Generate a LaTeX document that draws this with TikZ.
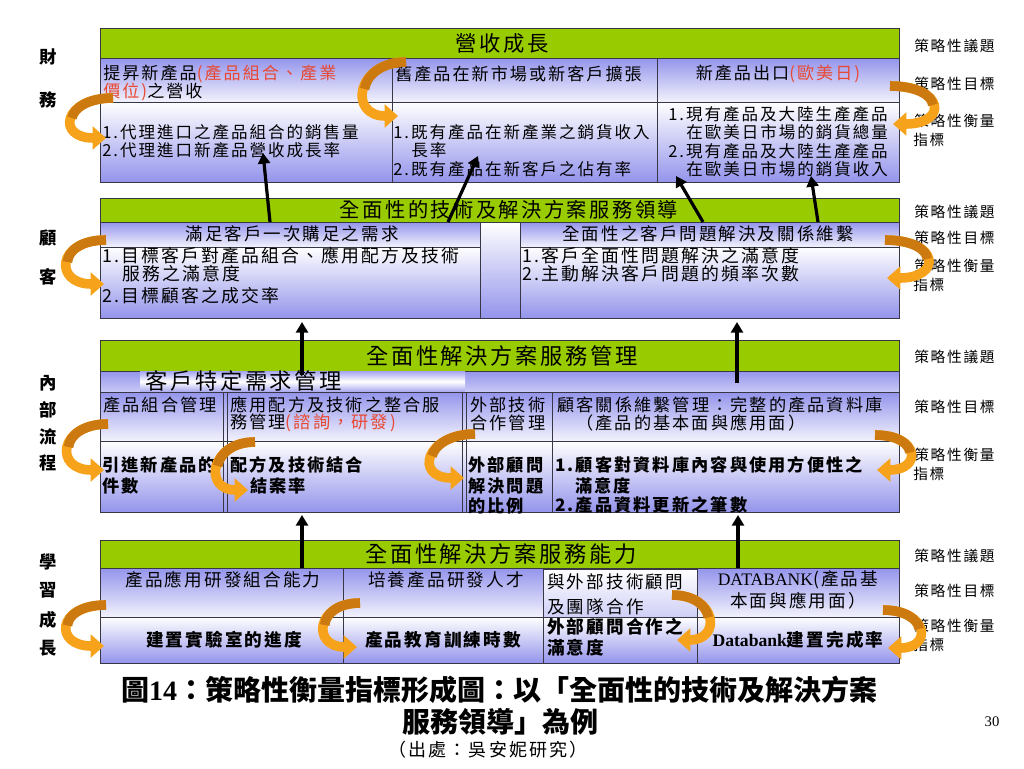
\documentclass[tikz,border=0pt]{standalone}
\usepackage{fontspec}
\setmainfont{Noto Sans CJK TC}[LetterSpace=12]
\newfontfamily\capf{Noto Sans CJK TC}
\newfontfamily\lat{Liberation Serif}
\usetikzlibrary{arrows.meta,calc}
\definecolor{grn}{RGB}{153,204,0}
\definecolor{lav}{RGB}{148,148,236}
\definecolor{orA}{RGB}{247,162,27}
\definecolor{orD}{RGB}{204,122,16}
\definecolor{redt}{RGB}{232,72,50}
\definecolor{bord}{RGB}{55,55,70}
\newcommand\fz[1]{\fontsize{#1}{#1}\selectfont}
\tikzset{
  hdr/.style={fill=grn, draw=bord, line width=0.7pt},
  rowa/.style={top color=lav, bottom color=lav!12, draw=bord, line width=0.7pt},
  rowb/.style={top color=white, bottom color=lav, draw=bord, line width=0.7pt},
  rowc/.style={top color=white, bottom color=lav!45, draw=bord, line width=0.7pt},
  bandst/.style={top color=lav, bottom color=lav!50, draw=bord, line width=0.7pt},
  midst/.style={top color=lav!80, bottom color=lav!80, middle color=white},
  divl/.style={draw=bord, line width=0.7pt},
  htxt/.style={inner sep=0pt, font=\fz{16.5pt}},
  tx/.style={inner sep=0pt, anchor=west, font=\fz{12.9pt}},
  txb/.style={inner sep=0pt, anchor=west, font=\bfseries\fz{12.9pt}},
  rl/.style={inner sep=0pt, anchor=west, font=\fz{11pt}},
  ll/.style={inner sep=0pt, font=\bfseries\fz{13pt}},
  orarr/.style={draw=orA, line width=7.2pt, -{Triangle[length=10pt,width=17pt]}},
  ordark/.style={draw=orD, line width=7.2pt},
  blk/.style={draw=black, line width=2.4pt, -{Triangle[length=8pt,width=9pt]}},
}
% orange ribbon arrow: start, end, horizontal bulge
\newcommand\orr[3]{%
  \draw[orarr] (#1) .. controls +(#3,0) and +(#3,0) .. (#2);
  \draw[ordark] (#1) .. controls +({0.5*(#3)},0) and ($(#1)!0.25!(#2)+({0.75*(#3)},0)$) .. ($(#1)!0.5!(#2)+({0.75*(#3)},0)$);}
\begin{document}
\begin{tikzpicture}[x=0.75pt,y=-0.75pt]
\useasboundingbox (0,0) rectangle (1024,768);
\fill[white] (0,0) rectangle (1024,768);

% ---------------- Finance ----------------
\draw[hdr] (100,28) rectangle (899,58);
\draw[rowa] (100,58) rectangle (899,102);
\draw[rowb] (100,102) rectangle (899,182);
\draw[divl] (392,58) -- (392,182);
\draw[divl] (657,58) -- (657,182);
\node[htxt,font=\fz{16pt}] (fH) at (502,43) {營收成長};
\node[tx,font=\fz{12.8pt}] (f1a) at (103,74) {提昇新產品{\color{redt}(產品組合、產業}};
\node[tx,font=\fz{12.8pt}] (f1b) at (103,92) {{\color{redt}價位)}之營收};
\node[tx,font=\fz{12.8pt}] (f2a) at (395,74) {舊產品在新市場或新客戶擴張};
\node[tx,anchor=center,font=\fz{12.8pt}] (f3a) at (778,74) {新產品出口{\color{redt}(歐美日)}};
\node[tx,font=\fz{12.4pt}] (f1c) at (102,132) {1.代理進口之產品組合的銷售量};
\node[tx,font=\fz{12.4pt}] (f1d) at (102,150) {2.代理進口新產品營收成長率};
\node[tx,font=\fz{12.4pt}] (f2b) at (393,132) {1.既有產品在新產業之銷貨收入};
\node[tx,font=\fz{12.4pt}] (f2c) at (411,150) {長率};
\node[tx,font=\fz{12.4pt}] (f2d) at (393,169) {2.既有產品在新客戶之佔有率};
\node[tx,font=\fz{12.4pt}] (f3b) at (668,114) {1.現有產品及大陸生產產品};
\node[tx,font=\fz{12.4pt}] (f3c) at (686,132) {在歐美日市場的銷貨總量};
\node[tx,font=\fz{12.4pt}] (f3d) at (668,151) {2.現有產品及大陸生產產品};
\node[tx,font=\fz{12.4pt}] (f3e) at (686,169) {在歐美日市場的銷貨收入};

% ---------------- Customer ----------------
\draw[hdr] (100,198) rectangle (899,222);
\draw[rowb] (100,222) rectangle (899,318);
\draw[rowa] (100,222) rectangle (480,247);
\draw[rowb] (100,247) rectangle (480,318);
\draw[rowa] (520,222) rectangle (899,247);
\draw[rowb] (520,247) rectangle (899,318);
\node[htxt,font=\fz{15.2pt}] (cH) at (509,210) {全面性的技術及解決方案服務領導};
\node[tx,anchor=center,font=\fz{13.1pt}] (c1h) at (292,234) {滿足客戶一次購足之需求};
\node[tx,font=\fz{13.4pt}] (c1a) at (102,256) {1.目標客戶對產品組合、應用配方及技術};
\node[tx,font=\fz{13.4pt}] (c1b) at (122,274) {服務之滿意度};
\node[tx,font=\fz{13.4pt}] (c1c) at (102,296) {2.目標顧客之成交率};
\node[tx,anchor=center,font=\fz{13.1pt}] (c2h) at (708,234) {全面性之客戶問題解決及關係維繫};
\node[tx,font=\fz{13.4pt}] (c2a) at (522,256) {1.客戶全面性問題解決之滿意度};
\node[tx,font=\fz{13.4pt}] (c2b) at (522,274) {2.主動解決客戶問題的頻率次數};

% ---------------- Internal process ----------------
\draw[hdr] (100,340) rectangle (899,371);
\draw[bandst] (100,371) rectangle (899,392);
\path[midst] (140,371.5) rectangle (465,391.5);
\draw[rowa] (100,392) rectangle (899,441);
\draw[rowb] (100,441) rectangle (899,512);
\draw[divl] (223,392) -- (223,512);
\draw[divl] (227,392) -- (227,512);
\draw[divl] (462,392) -- (462,512);
\draw[divl] (466,392) -- (466,512);
\draw[divl] (552,392) -- (552,512);
\node[htxt,font=\fz{16.7pt}] (iH) at (502,356) {全面性解決方案服務管理};
\node[tx,font=\fz{16.7pt}] (i0) at (145,381) {客戶特定需求管理};
\node[tx] (i1a) at (103,405) {產品組合管理};
\node[tx] (i2a) at (230,405) {應用配方及技術之整合服};
\node[tx] (i2b) at (230,423) {務管理{\color{redt}(諮詢，研發)}};
\node[tx] (i3a) at (470,405) {外部技術};
\node[tx] (i3b) at (470,423) {合作管理};
\node[tx] (i4a) at (557,405) {顧客關係維繫管理：完整的產品資料庫};
\node[tx] (i4b) at (576,423) {（產品的基本面與應用面）};
\node[txb] (i1c) at (102,465) {引進新產品的};
\node[txb] (i1d) at (102,486) {件數};
\node[txb] (i2c) at (230,465) {配方及技術結合};
\node[txb] (i2d) at (250,486) {結案率};
\node[txb] (i3c) at (468,465) {外部顧問};
\node[txb] (i3d) at (468,486) {解決問題};
\node[txb] (i3e) at (468,506) {的比例};
\node[txb] (i4c) at (555,465) {1.顧客對資料庫內容與使用方便性之};
\node[txb] (i4d) at (575,486) {滿意度};
\node[txb] (i4e) at (555,505) {2.產品資料更新之筆數};

% ---------------- Learning & growth ----------------
\draw[hdr] (100,540) rectangle (899,568);
\draw[rowa] (100,568) rectangle (899,617);
\draw[rowb] (100,617) rectangle (899,663);
\draw[rowc] (543,569) rectangle (697,617);
\draw[rowb] (543,617) rectangle (697,663);
\draw[divl] (343,568) -- (343,663);
\draw[divl] (697,568) -- (697,663);
\node[htxt,font=\fz{16.7pt}] (lH) at (501,554) {全面性解決方案服務能力};
\node[tx,anchor=center,font=\fz{13.2pt}] (l1a) at (223,580) {產品應用研發組合能力};
\node[tx,anchor=center,font=\fz{13.2pt}] (l2a) at (446,580) {培養產品研發人才};
\node[tx,font=\fz{13.2pt}] (l3a) at (547,582) {與外部技術顧問};
\node[tx,font=\fz{13.2pt}] (l3b) at (547,607) {及團隊合作};
\node[tx,anchor=center,font=\fz{13.2pt}] (l4a) at (798,580) {{\lat DATABANK}(產品基};
\node[tx,anchor=center,font=\fz{13.2pt}] (l4b) at (798,601) {本面與應用面）};
\node[txb,anchor=center,font=\bfseries\fz{13.2pt}] (l1b) at (224,640) {建置實驗室的進度};
\node[txb,font=\bfseries\fz{13.2pt}] (l2b) at (365,640) {產品教育訓練時數};
\node[txb,font=\bfseries\fz{13.2pt}] (l3c) at (547,627) {外部顧問合作之};
\node[txb,font=\bfseries\fz{13.2pt}] (l3d) at (547,648) {滿意度};
\node[txb,anchor=center,font=\bfseries\fz{13.2pt}] (l4c) at (798,640) {{\lat\bfseries Databank}建置完成率};

% ---------------- right labels ----------------
\node[rl] (r1a) at (914,46) {策略性議題};
\node[rl] (r1b) at (914,84) {策略性目標};
\node[rl] (r1c) at (914,121) {策略性衡量};
\node[rl] (r1d) at (913,140) {指標};
\node[rl] (r2a) at (914,212) {策略性議題};
\node[rl] (r2b) at (914,238) {策略性目標};
\node[rl] (r2c) at (914,266) {策略性衡量};
\node[rl] (r2d) at (913,285) {指標};
\node[rl] (r3a) at (914,357) {策略性議題};
\node[rl] (r3b) at (914,407) {策略性目標};
\node[rl] (r3c) at (914,455) {策略性衡量};
\node[rl] (r3d) at (913,474) {指標};
\node[rl] (r4a) at (914,556) {策略性議題};
\node[rl] (r4b) at (914,591) {策略性目標};
\node[rl] (r4c) at (914,626) {策略性衡量};
\node[rl] (r4d) at (913,645) {指標};

% ---------------- left labels ----------------
\node[ll] (L1a) at (48,57) {財};
\node[ll] (L1b) at (48,100) {務};
\node[ll] (L2a) at (48,238) {顧};
\node[ll] (L2b) at (48,277) {客};
\node[ll] (L3a) at (48,383) {內};
\node[ll] (L3b) at (48,410) {部};
\node[ll] (L3c) at (48,437) {流};
\node[ll] (L3d) at (48,463) {程};
\node[ll] (L4a) at (48,562) {學};
\node[ll] (L4b) at (48,590) {習};
\node[ll] (L4c) at (48,620) {成};
\node[ll] (L4d) at (48,648) {長};

% ---------------- caption ----------------
\node[inner sep=0pt,font=\capf\bfseries\fz{21pt}] (cap1) at (499,690) {圖{\lat\bfseries 14}：策略性衡量指標形成圖：以「全面性的技術及解決方案};
\node[inner sep=0pt,font=\capf\bfseries\fz{21pt}] (cap2) at (500,722) {服務領導」為例};
\node[inner sep=0pt,font=\fz{13.5pt}] (cap3) at (488,750) {（出處：吳安妮研究）};
\node[inner sep=0pt,font=\lat\fz{11pt}] (pgn) at (992,722) {30};

% ---------------- orange curved arrows ----------------
\coordinate (oF1s) at (113,98);  \coordinate (oF1e) at (106,138);
\coordinate (oF2s) at (406,62);  \coordinate (oF2e) at (398,116);
\coordinate (oF3s) at (890,86);  \coordinate (oF3e) at (893,124);
\coordinate (oC1s) at (106,240); \coordinate (oC1e) at (104,284);
\coordinate (oC2s) at (885,240); \coordinate (oC2e) at (887,278);
\coordinate (oI1s) at (108,424); \coordinate (oI1e) at (104,470);
\coordinate (oI2s) at (255,442); \coordinate (oI2e) at (248,490);
\coordinate (oI3s) at (475,434); \coordinate (oI3e) at (464,478);
\coordinate (oI4s) at (875,435); \coordinate (oI4e) at (877,470);
\coordinate (oL1s) at (106,605); \coordinate (oL1e) at (104,646);
\coordinate (oL2s) at (360,603); \coordinate (oL2e) at (357,647);
\coordinate (oL3s) at (672,595); \coordinate (oL3e) at (677,640);
\coordinate (oL4s) at (883,610); \coordinate (oL4e) at (888,648);
\orr{oF1s}{oF1e}{-50}
\orr{oF2s}{oF2e}{-50}
\orr{oF3s}{oF3e}{55}
\orr{oC1s}{oC1e}{-50}
\orr{oC2s}{oC2e}{55}
\orr{oI1s}{oI1e}{-50}
\orr{oI2s}{oI2e}{-45}
\orr{oI3s}{oI3e}{-50}
\orr{oI4s}{oI4e}{45}
\orr{oL1s}{oL1e}{-50}
\orr{oL2s}{oL2e}{-45}
\orr{oL3s}{oL3e}{45}
\orr{oL4s}{oL4e}{45}

% ---------------- black arrows ----------------
\coordinate (bF1s) at (270,222); \coordinate (bF1e) at (263,153);
\coordinate (bF2s) at (448,222); \coordinate (bF2e) at (478,156);
\coordinate (bF3s) at (703,222); \coordinate (bF3e) at (676,176);
\coordinate (bF4s) at (818,222); \coordinate (bF4e) at (811,176);
\coordinate (bC1s) at (302,375); \coordinate (bC1e) at (302,322);
\coordinate (bC2s) at (737,383); \coordinate (bC2e) at (737,322);
\coordinate (bI1s) at (302,568); \coordinate (bI1e) at (302,515);
\coordinate (bI2s) at (738,568); \coordinate (bI2e) at (738,515);
\draw[blk] (bF1s) -- (bF1e);
\draw[blk] (bF2s) -- (bF2e);
\draw[blk] (bF3s) -- (bF3e);
\draw[blk] (bF4s) -- (bF4e);
\draw[blk] (bC1s) -- (bC1e);
\draw[blk] (bC2s) -- (bC2e);
\draw[blk] (bI1s) -- (bI1e);
\draw[blk] (bI2s) -- (bI2e);
\end{tikzpicture}
\end{document}
